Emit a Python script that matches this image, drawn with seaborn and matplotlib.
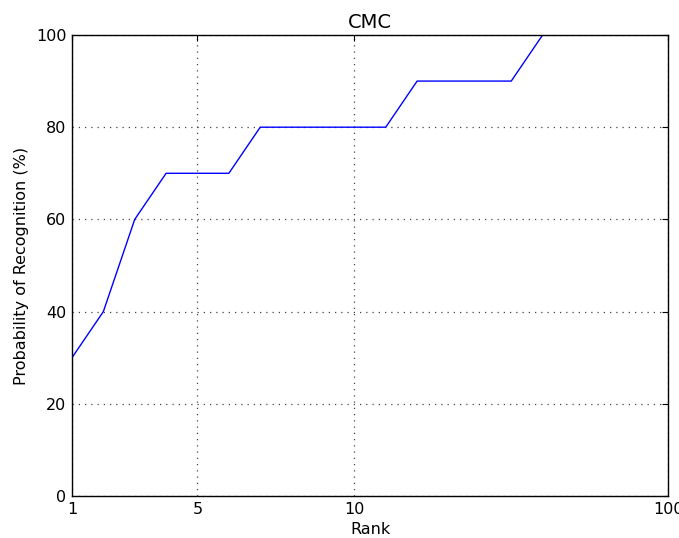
import matplotlib
matplotlib.use("Agg")
import matplotlib.pyplot as plt
import seaborn as sns
import pandas as pd

# Cumulative match characteristic values per rank
ranks = list(range(1, 21))
recognition = [30, 40, 60, 70, 70, 70, 80, 80, 80, 80, 80, 90, 90, 90, 90,
               100, 100, 100, 100, 100]
tick_positions = [1, 5, 10, 20]
tick_labels = ["1", "5", "10", "100"]

df = pd.DataFrame({"Rank": ranks, "Recognition": recognition})

sns.set_style("white")
plt.rcParams["font.family"] = ["DejaVu Sans"]
plt.rcParams["text.color"] = "black"
plt.rcParams["axes.labelcolor"] = "black"

fig = plt.figure(figsize=(6.79, 5.38), dpi=100)
ax = fig.add_axes([0.106, 0.078, 0.878, 0.857])

sns.lineplot(data=df, x="Rank", y="Recognition", color="blue", linewidth=1.0, ax=ax)

ax.set_xlim(1, 20)
ax.set_ylim(0, 100)
ax.set_xticks(tick_positions)
ax.set_xticklabels(tick_labels)
ax.set_yticks([0, 20, 40, 60, 80, 100])
ax.grid(True, linestyle=(0, (1, 4)), color="#444444", linewidth=0.9)
ax.tick_params(direction="in", length=4, width=0.8, top=True, right=True,
               labelsize=11.5, colors="black", pad=4)
for s in ax.spines.values():
    s.set_color("black")
    s.set_linewidth(1.0)
    s.set_visible(True)

ax.set_title("CMC", fontsize=14, color="black", pad=5)
ax.set_xlabel("Rank", fontsize=11.5, labelpad=4)
ax.set_ylabel("Probability of Recognition (%)", fontsize=11.5, labelpad=5)

fig.savefig("out.png", dpi=100)
